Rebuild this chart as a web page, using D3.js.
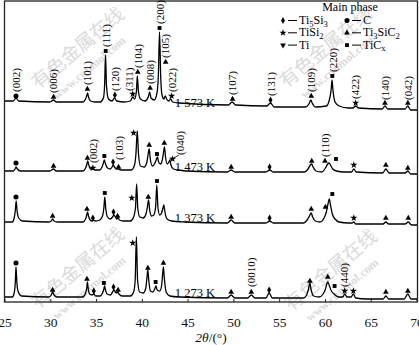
<!DOCTYPE html>
<html>
<head>
<meta charset="utf-8">
<script src="https://cdn.jsdelivr.net/npm/d3@7"></script>
<style>
  body { margin: 0; background: #fff; }
  svg { display: block; font-family: "Liberation Serif", "Times New Roman", serif; }
</style>
</head>
<body>
<svg id="chart" width="419" height="345"></svg>
<script>
// ---- XRD patterns of the sintered samples (2θ in degrees, relative intensity in a.u.) ----
const temps = ["1 573 K", "1 473 K", "1 373 K", "1 273 K"];
const offsets = [192, 128, 77, 2];   // vertical stacking of the patterns

const pattern1573 = [
  [25,9],[25.9,9],[26.2,12],[26.5,9],[29.9,8],[30.3,10],[30.6,8],
  [33.5,8],[33.8,11],[33.95,15],[34.02,17],[34.12,13],[34.35,9],[34.8,8],
  [35.4,8],[35.75,12],[35.88,25],[35.98,55],[36.08,25],[36.3,11],[36.7,9],[36.95,12],[37.2,9],[38.0,8],
  [38.7,9],[38.95,13],[39.15,11],[39.35,18],[39.45,34],[39.58,18],[39.8,11],[40.3,9],[40.65,13],[40.8,18],[40.95,12],
  [41.3,10],[41.6,17],[41.75,35],[41.88,78],[42.0,35],[42.15,15],[42.35,11],[42.5,14],[42.65,11],[42.9,9],[43.1,11],[43.3,8],[44.0,7],
  [49.4,5],[49.8,8],[50.2,5],[53.6,4],[54.0,7],[54.4,3],
  [57.8,3],[58.2,6],[58.4,10],[58.55,7],[58.9,3],[60.1,4],[60.45,11],[60.62,20],[60.72,30],[60.82,20],[61.05,8],[61.5,4],
  [62.5,2],[63.0,2],[63.3,4],[63.6,2],[66.2,1],[66.5,4],[66.8,1],[68.7,1],[69.0,4],[69.3,0],[70,0]
];
const pattern1473 = [
  [25,3],[25.9,3],[26.1,5],[26.2,7],[26.35,5],[26.7,3],[29.9,3],[30.3,5],[30.6,3],
  [33.5,3],[33.8,6],[33.95,10],[34.03,13],[34.15,9],[34.35,5],[34.6,5],[34.85,4],
  [35.35,4],[35.6,7],[35.75,11],[35.85,14],[35.95,11],[36.2,6],[36.5,5],[36.7,7],[36.82,9],[36.95,7],[37.2,5],[37.4,5],[37.6,4],[38.0,4],
  [38.8,4],[39.15,9],[39.3,20],[39.45,43],[39.58,20],[39.8,8],[40.2,7],[40.5,12],[40.62,19],[40.75,25],[40.87,15],[41.1,8],
  [41.38,11],[41.55,15],[41.65,17],[41.78,12],[42.0,10],[42.2,15],[42.32,22],[42.42,27],[42.52,18],[42.72,10],[42.9,12],[43.0,14],[43.12,9],[43.4,5],[44.0,4],[44.8,3],
  [49.3,2],[49.7,4],[50.1,2],[53.5,2],[53.9,4],[54.3,2],
  [57.7,2],[58.1,5],[58.35,9],[58.5,10],[58.65,7],[58.95,3],[59.6,2],[60.0,6],[60.25,10],[60.4,11],[60.55,9],[60.8,5],[61.2,3],
  [62.0,2],[62.85,2],[63.1,5],[63.35,2],[66.25,1],[66.6,5],[66.95,1],[68.7,1],[69.0,3],[69.3,0],[70,0]
];
const pattern1373 = [
  [25,3],[25.8,3],[26.0,7],[26.12,14],[26.22,24],[26.32,14],[26.5,7],[26.9,4],[29.8,3],[30.05,4],[30.2,6],[30.35,4],[30.7,3],
  [33.5,3],[33.8,6],[33.93,10],[34.02,13],[34.12,9],[34.3,5],[34.5,4],[34.65,5],[34.85,4],
  [35.35,5],[35.65,9],[35.8,17],[35.9,28],[36.0,17],[36.2,8],[36.5,6],[36.75,8],[36.9,10],[37.05,8],[37.2,6],[37.35,7],[37.5,5],[37.9,4],
  [38.7,4],[39.05,8],[39.25,17],[39.38,41],[39.5,17],[39.72,8],[40.1,7],[40.4,11],[40.55,18],[40.68,25],[40.8,15],[41.0,9],
  [41.25,10],[41.45,18],[41.58,40],[41.7,18],[41.9,10],[42.1,12],[42.25,17],[42.35,20],[42.45,14],[42.7,6],[43.2,4],[44.5,3],
  [49.3,2],[49.7,5],[50.1,2],[53.5,2],[53.9,4],[54.3,2],
  [57.6,2],[58.0,5],[58.25,9],[58.45,12],[58.6,8],[58.9,4],[59.4,3],[59.85,7],[60.1,13],[60.3,22],[60.42,26],[60.55,20],[60.75,11],[61.05,6],[61.5,3],
  [62.5,2],[62.9,2],[63.1,3],[63.3,1],[66.3,1],[66.6,3],[66.9,1],[68.7,1],[69.05,3],[69.4,0],[70,0]
];
const pattern1273 = [
  [25,3],[25.8,3],[26.0,7],[26.12,17],[26.2,33],[26.3,17],[26.45,8],[26.8,4],[29.8,3],[30.05,5],[30.2,8],[30.35,5],[30.7,3],
  [33.5,3],[33.8,7],[33.93,12],[34.0,18],[34.08,12],[34.25,6],[34.5,5],[34.7,6],[34.9,4],
  [35.4,4],[35.65,7],[35.8,11],[35.87,14],[35.95,11],[36.15,6],[36.5,5],[36.75,8],[36.9,10],[37.05,8],[37.2,7],[37.3,8],[37.45,6],[37.8,4],
  [38.7,4],[39.05,8],[39.22,20],[39.35,63],[39.48,20],[39.7,8],[40.1,7],[40.38,12],[40.5,22],[40.6,30],[40.7,20],[40.88,9],
  [41.15,8],[41.35,11],[41.5,14],[41.62,10],[41.9,9],[42.1,14],[42.2,24],[42.3,33],[42.4,22],[42.6,8],[43.0,4],[44.0,3],
  [49.3,2],[49.7,5],[50.1,2],[51.5,2],[51.9,5],[52.3,2],[53.5,2],[53.85,7],[54.2,2],
  [57.6,2],[57.95,5],[58.15,11],[58.3,17],[58.42,11],[58.7,4],[59.3,3],[59.75,6],[60.0,11],[60.15,16],[60.25,18],[60.4,15],[60.65,9],[60.95,6],[61.4,3],
  [61.9,3],[62.1,6],[62.35,3],[62.8,3],[63.05,6],[63.3,2],[64.5,1],[66.3,1],[66.6,4],[66.9,1],[68.6,1],[69.0,6],[69.35,1],[70,1]
];
const patterns = [pattern1573, pattern1473, pattern1373, pattern1273];

// phase markers: [2θ, phase, level]
const marks1573 = [
  [26.2,"C",14],[30.3,"Ti3SiC2",13],[34.0,"Ti3SiC2",21],[36.0,"TiCx",59],[37.0,"Ti5Si3",15],[38.95,"TiSi2",16],
  [39.5,"Ti3SiC2",38],[40.85,"Ti3SiC2",22],[41.88,"TiCx",82],[42.55,"Ti3SiC2",48],[43.2,"TiSi2",14],
  [49.85,"Ti3SiC2",11],[54.0,"Ti5Si3",10],[58.45,"Ti3SiC2",14],[60.75,"TiCx",34],[63.3,"TiSi2",7],[66.5,"Ti3SiC2",7],[69.0,"Ti3SiC2",7]
];
const marks1473 = [
  [26.2,"C",11],[30.3,"Ti3SiC2",8],[34.0,"Ti3SiC2",16],[34.6,"TiSi2",6],[35.85,"TiCx",18],[36.8,"Ti5Si3",12],[37.4,"Ti3SiC2",7],
  [39.05,"TiSi2",41],[40.75,"Ti3SiC2",29],[41.6,"TiCx",20],[42.4,"Ti3SiC2",31],[43.3,"TiSi2",15],
  [49.7,"Ti3SiC2",7],[53.9,"Ti5Si3",7],[58.5,"Ti3SiC2",13],[59.95,"Ti3SiC2",13],[61.15,"TiCx",15],[63.1,"TiSi2",9],[66.6,"Ti3SiC2",9],[69.0,"Ti3SiC2",6]
];
const marks1373 = [
  [26.2,"C",28],[30.2,"Ti3SiC2",9],[33.95,"Ti3SiC2",16],[34.6,"Ti5Si3",7],[35.9,"TiCx",32],[36.85,"Ti5Si3",13],[37.3,"Ti3SiC2",9],
  [38.85,"TiSi2",27],[40.65,"Ti3SiC2",28],[41.6,"TiCx",44],
  [49.7,"Ti3SiC2",8],[53.9,"Ti5Si3",7],[58.45,"Ti3SiC2",16],[60.0,"Ti3SiC2",18],[60.75,"TiCx",31],[63.1,"TiSi2",7],[66.6,"Ti3SiC2",7],[69.05,"Ti3SiC2",7]
];
const marks1273 = [
  [26.2,"C",37],[30.2,"Ti3SiC2",10],[33.95,"Ti3SiC2",21],[34.7,"Ti5Si3",9],[35.8,"TiCx",17],[36.85,"Ti5Si3",13],[37.35,"Ti3SiC2",10],
  [38.95,"TiSi2",57],[40.6,"Ti3SiC2",32],[41.45,"TiCx",18],[42.3,"Ti3SiC2",37],
  [49.7,"Ti3SiC2",8],[51.9,"Ti3SiC2",8],[53.85,"Ti5Si3",10],[58.3,"Ti3SiC2",19],[60.25,"Ti3SiC2",23],[61.0,"TiCx",14],
  [62.1,"TiSi2",9],[63.05,"TiSi2",9],[66.6,"Ti3SiC2",8],[69.0,"Ti3SiC2",9]
];
const marks = [marks1573, marks1473, marks1373, marks1273];

// Miller indices: [2θ, text, level of the text foot]
const hkl1573 = [
  [26.25,"(002)",18],[30.3,"(006)",17],[34.0,"(101)",25],[36.0,"(111)",63],[37.0,"(120)",19],[38.55,"(311)",19],
  [39.5,"(104)",42],[40.85,"(008)",26],[41.9,"(200)",86],[42.55,"(105)",52],[43.25,"(022)",18],
  [49.85,"(107)",15],[54.05,"(131)",14],[58.45,"(109)",18],[60.8,"(220)",38],[63.3,"(422)",11],[66.5,"(140)",10],[69.0,"(042)",10]
];
const hkl1473 = [[34.6,"(002)",11],[37.45,"(103)",14],[44.15,"(040)",19],[59.95,"(110)",17]];
const hkl1373 = [];
const hkl1273 = [[51.9,"(0010)",13],[62.1,"(440)",13]];
const hkls = [hkl1573, hkl1473, hkl1373, hkl1273];

const xTicks = [25, 30, 35, 40, 45, 50, 55, 60, 65, 70];

// legend entries: phase key, formula parts [text, isSubscript]
const legendItems = [
  ["Ti5Si3", [["Ti",0],["5",1],["Si",0],["3",1]]],
  ["C", [["C",0]]],
  ["TiSi2", [["TiSi",0],["2",1]]],
  ["Ti3SiC2", [["Ti",0],["3",1],["SiC",0],["2",1]]],
  ["Ti", [["Ti",0]]],
  ["TiCx", [["TiC",0],["x",1]]]
];

// ---- drawing ----
const svg = d3.select("#chart");
const x = d3.scaleLinear().domain([25, 70]).range([5, 417]);
const y = d3.scaleLinear().domain([0, 300]).range([302, 2]);

const symbolFor = {
  Ti5Si3: d3.symbol().type(d3.symbolDiamond).size(14),
  C: d3.symbol().type(d3.symbolCircle).size(20),
  TiSi2: d3.symbol().type(d3.symbolStar).size(16),
  Ti3SiC2: d3.symbol().type(d3.symbolTriangle).size(14),
  Ti: d3.symbol().type(d3.symbolTriangle).size(14),
  TiCx: d3.symbol().type(d3.symbolSquare).size(15)
};
function drawSymbol(g, phase, px, py) {
  g.append("path")
    .attr("d", symbolFor[phase]())
    .attr("transform", `translate(${px},${py})` + (phase === "Ti" ? " rotate(180)" : ""))
    .attr("fill", "#000");
}

// watermark
const wm = svg.append("g").attr("fill", "#dadada");
[[82, 53], [330, 52], [82, 273], [335, 275]].forEach(([cx, cy]) => {
  const g = wm.append("g").attr("transform", `translate(${cx},${cy}) rotate(-40)`);
  g.append("text").attr("text-anchor", "middle").attr("font-family", "Noto Sans CJK SC")
    .attr("font-size", 19).text("有色金属在线");
  g.append("text").attr("text-anchor", "middle").attr("x", -4).attr("y", 20)
    .attr("font-size", 12).attr("font-weight", "bold").text("www.cnnmol.com");
});

// frame
svg.append("rect").attr("x", 4.5).attr("y", 1).attr("width", 413).attr("height", 301)
  .attr("fill", "none").attr("stroke", "#222").attr("stroke-width", 1.3);

// x axis ticks and labels
const axis = svg.append("g").attr("transform", "translate(0,302)");
axis.selectAll("line").data(xTicks).join("line")
  .attr("x1", d => x(d)).attr("x2", d => x(d)).attr("y1", 0).attr("y2", -3)
  .attr("stroke", "#222").attr("stroke-width", 1);
axis.selectAll("text").data(xTicks).join("text")
  .attr("x", d => x(d)).attr("y", 25).attr("text-anchor", "middle")
  .attr("font-size", 13.5).attr("fill", "#111").text(d => d);

const title = svg.append("text").attr("x", 211).attr("y", 342).attr("text-anchor", "middle")
  .attr("font-size", 13.5).attr("fill", "#111");
title.append("tspan").attr("font-style", "italic").text("2θ");
title.append("tspan").text("/(°)");

// patterns
const line = d3.line().x(d => x(d[0])).curve(d3.curveMonotoneX);
patterns.forEach((pts, i) => {
  const off = offsets[i];
  svg.append("path")
    .attr("d", line.y(d => y(d[1] + off))(pts))
    .attr("fill", "none").attr("stroke", "#000").attr("stroke-width", 1.3)
    .attr("stroke-linejoin", "round");

  const g = svg.append("g");
  marks[i].forEach(([t, phase, lv]) => drawSymbol(g, phase, x(t), y(lv + off)));

  hkls[i].forEach(([t, txt, lv]) => {
    g.append("text")
      .attr("transform", `translate(${x(t) + 3.8},${y(lv + off)}) rotate(-90)`)
      .attr("font-size", 11).attr("fill", "#000").text(txt);
  });

  g.append("text").attr("x", x(43.55)).attr("y", y(off) - 3)
    .attr("font-size", 12.5).attr("fill", "#000").text(temps[i]);
});

// leader from the (040) reflection to its marker
svg.append("line")
  .attr("x1", x(43.05)).attr("y1", y(offsets[1] + 14))
  .attr("x2", x(44.0)).attr("y2", y(offsets[1] + 19))
  .attr("stroke", "#000").attr("stroke-width", 0.8);

// legend
const lg = svg.append("g");
lg.append("text").attr("x", 350).attr("y", 10.5).attr("text-anchor", "middle")
  .attr("font-size", 12).text("Main phase");
legendItems.forEach(([phase, parts], k) => {
  const col = k % 2, row = Math.floor(k / 2);
  const mx = col === 0 ? 283 : 347;
  const ly = 24 + row * 12.3;
  drawSymbol(lg, phase, mx, ly - 3.5);
  lg.append("line").attr("x1", mx + 5).attr("x2", mx + 14).attr("y1", ly - 3.5).attr("y2", ly - 3.5)
    .attr("stroke", "#000").attr("stroke-width", 1);
  const t = lg.append("text").attr("x", mx + 16).attr("y", ly).attr("font-size", 12);
  parts.forEach(([s, sub], j) => {
    const ts = t.append("tspan").text(s);
    if (sub) ts.attr("font-size", 8.5).attr("dy", 2.5);
    else if (j > 0) ts.attr("dy", -2.5);
  });
});
</script>
</body>
</html>
